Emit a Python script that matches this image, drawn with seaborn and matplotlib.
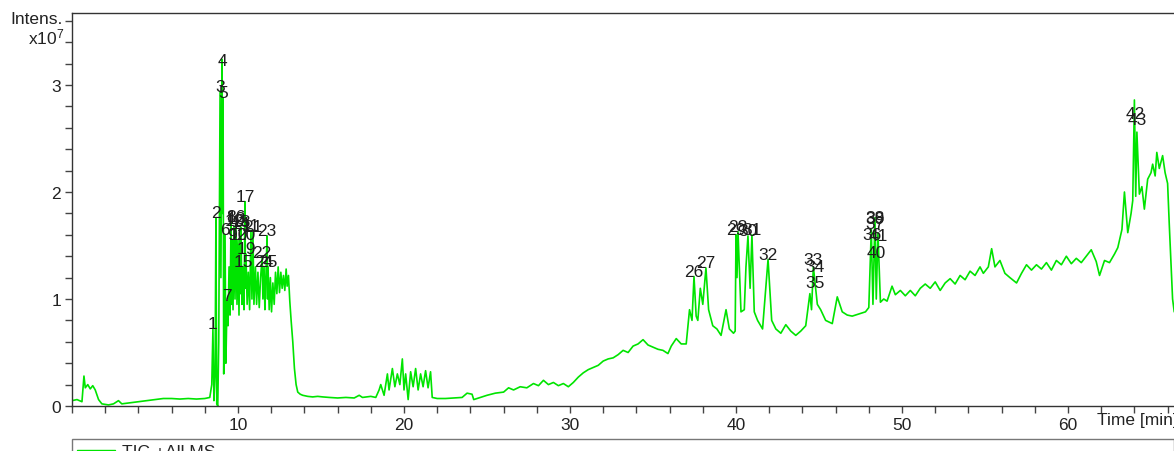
import matplotlib
matplotlib.use("Agg")
import matplotlib.pyplot as plt
from matplotlib.ticker import MultipleLocator, FixedLocator
import seaborn as sns
import pandas as pd

# ---------------- data ----------------
time_min = [
    0.0, 0.3, 0.6, 0.72, 0.8, 0.95, 1.1, 1.25, 1.4, 1.6, 1.8, 2.2, 2.5, 2.8, 3.0,
    3.5, 4.0, 4.5, 5.0, 5.5, 6.0, 6.5, 7.0, 7.5, 8.0, 8.3, 8.42, 8.49, 8.55, 8.62,
    8.67, 8.72, 8.78, 8.84, 8.92, 8.97, 9.04, 9.07, 9.10, 9.14, 9.18, 9.22, 9.27, 9.34,
    9.40, 9.46, 9.52, 9.58, 9.61, 9.64, 9.70, 9.76, 9.82, 9.88, 9.94, 10.00, 10.06,
    10.12, 10.15, 10.18, 10.24, 10.30, 10.36, 10.42, 10.45, 10.48, 10.55, 10.62, 10.70,
    10.78, 10.84, 10.90, 10.96, 11.05, 11.12, 11.20, 11.28, 11.36, 11.45, 11.50, 11.57,
    11.62, 11.68, 11.75, 11.78, 11.81, 11.88, 11.95, 12.02, 12.10, 12.18, 12.26, 12.34,
    12.42, 12.50, 12.58, 12.66, 12.74, 12.82, 12.90, 12.96, 13.04, 13.12, 13.20, 13.30,
    13.40, 13.50, 13.60, 13.75, 13.90, 14.2, 14.5, 14.8, 15.1, 15.5, 16.0, 16.5, 17.0,
    17.3, 17.5, 18.0, 18.3, 18.5, 18.6, 18.8, 19.0, 19.1, 19.3, 19.45, 19.6, 19.75, 19.9,
    20.0, 20.1, 20.25, 20.4, 20.55, 20.7, 20.85, 21.0, 21.15, 21.3, 21.45, 21.6, 21.7,
    22.0, 22.5, 23.0, 23.5, 23.8, 24.1, 24.2, 24.6, 25.0, 25.5, 26.0, 26.3, 26.6, 27.0,
    27.4, 27.8, 28.1, 28.4, 28.7, 29.0, 29.3, 29.6, 29.9, 30.2, 30.5, 30.8, 31.1, 31.4,
    31.7, 32.0, 32.3, 32.6, 32.9, 33.2, 33.5, 33.8, 34.1, 34.4, 34.7, 35.0, 35.3, 35.6,
    35.9, 36.1, 36.4, 36.7, 37.0, 37.2, 37.35, 37.47, 37.6, 37.7, 37.85, 38.0, 38.19,
    38.35, 38.6, 38.85, 39.1, 39.4, 39.6, 39.85, 39.95, 40.0, 40.06, 40.12, 40.3, 40.5,
    40.6, 40.72, 40.85, 40.96, 41.1, 41.3, 41.6, 41.93, 42.15, 42.4, 42.7, 43.0, 43.3,
    43.6, 43.9, 44.2, 44.45, 44.55, 44.66, 44.9, 45.1, 45.4, 45.8, 46.1, 46.4, 46.7,
    47.0, 47.4, 47.8, 48.0, 48.15, 48.25, 48.37, 48.45, 48.55, 48.7, 48.9, 49.1, 49.4,
    49.6, 49.9, 50.2, 50.5, 50.8, 51.1, 51.4, 51.7, 52.0, 52.3, 52.6, 52.9, 53.2, 53.5,
    53.8, 54.1, 54.4, 54.7, 54.9, 55.2, 55.4, 55.6, 55.9, 56.2, 56.5, 56.9, 57.2, 57.5,
    57.8, 58.1, 58.4, 58.7, 59.0, 59.3, 59.6, 59.9, 60.2, 60.5, 60.8, 61.1, 61.4, 61.7,
    61.9, 62.2, 62.5, 62.8, 63.0, 63.25, 63.4, 63.6, 63.8, 63.9, 64.0, 64.08, 64.15,
    64.3, 64.45, 64.6, 64.8, 65.0, 65.1, 65.25, 65.35, 65.5, 65.7, 65.85, 66.0, 66.1,
    66.3, 66.4,
]
intensity_1e7 = [
    0.05, 0.06, 0.04, 0.28, 0.17, 0.20, 0.16, 0.19, 0.15, 0.06, 0.02, 0.01, 0.02, 0.05, 0.02,
    0.03, 0.04, 0.05, 0.06, 0.07, 0.07, 0.065, 0.07, 0.065, 0.07, 0.08, 0.20, 0.72, 0.05, 0.30,
    1.76, 0.02, 0.00, 0.60, 2.94, 1.20, 3.24, 1.80, 2.88, 0.30, 0.90, 1.60, 0.40, 0.98,
    0.75, 1.30, 0.85, 1.72, 0.95, 1.55, 0.90, 1.68, 1.00, 1.70, 0.95, 1.55, 0.85,
    1.66, 1.05, 1.67, 0.95, 1.30, 0.90, 1.91, 1.10, 1.42, 0.95, 1.25, 0.90,
    1.64, 1.00, 1.63, 0.95, 1.30, 0.95, 1.25, 0.92, 1.20, 1.38, 1.00, 1.30,
    0.90, 1.20, 1.59, 1.00, 1.30, 0.90, 1.20, 0.88, 1.15, 0.95, 1.25, 1.05,
    1.30, 1.06, 1.25, 1.10, 1.22, 1.08, 1.28, 1.12, 1.22, 0.98, 0.80, 0.60,
    0.35, 0.20, 0.13, 0.11, 0.10, 0.09, 0.085, 0.09, 0.085, 0.08, 0.075, 0.08, 0.075,
    0.10, 0.08, 0.09, 0.08, 0.15, 0.20, 0.10, 0.30, 0.15, 0.35, 0.18, 0.30, 0.20, 0.44,
    0.15, 0.30, 0.06, 0.32, 0.18, 0.35, 0.15, 0.30, 0.18, 0.33, 0.17, 0.32, 0.08,
    0.07, 0.07, 0.075, 0.08, 0.12, 0.11, 0.06, 0.08, 0.10, 0.12, 0.13, 0.17, 0.15, 0.18,
    0.17, 0.21, 0.19, 0.24, 0.20, 0.22, 0.19, 0.21, 0.18, 0.22, 0.27, 0.31, 0.34, 0.36,
    0.38, 0.42, 0.44, 0.45, 0.48, 0.52, 0.50, 0.56, 0.58, 0.62, 0.57, 0.55, 0.53, 0.52,
    0.49, 0.56, 0.63, 0.58, 0.58, 0.90, 0.80, 1.21, 0.84, 0.80, 1.10, 0.95, 1.29,
    0.90, 0.75, 0.72, 0.66, 0.90, 0.72, 0.68, 0.70, 1.60, 1.20, 1.63, 0.88, 0.90,
    1.30, 1.59, 1.10, 1.60, 0.88, 0.80, 0.72, 1.37, 0.80, 0.72, 0.68, 0.76, 0.70,
    0.66, 0.70, 0.75, 1.05, 0.90, 1.30, 0.95, 0.90, 0.80, 0.77, 1.02, 0.88, 0.85,
    0.84, 0.86, 0.88, 0.92, 1.65, 0.95, 1.76, 1.00, 1.62, 0.97, 1.00, 0.98, 1.12,
    1.04, 1.08, 1.03, 1.08, 1.03, 1.10, 1.14, 1.10, 1.16, 1.08, 1.15, 1.19, 1.14, 1.22,
    1.18, 1.26, 1.22, 1.30, 1.24, 1.30, 1.47, 1.30, 1.36, 1.24, 1.20, 1.15, 1.24, 1.32,
    1.27, 1.32, 1.28, 1.34, 1.27, 1.36, 1.32, 1.40, 1.33, 1.38, 1.34, 1.40, 1.46, 1.35,
    1.22, 1.36, 1.34, 1.42, 1.48, 1.65, 2.00, 1.62, 1.80, 1.92, 2.86, 1.96, 2.56,
    1.98, 2.05, 1.84, 2.12, 2.18, 2.26, 2.15, 2.37, 2.22, 2.34, 2.18, 2.08, 1.70,
    1.00, 0.88,
]

peak_ids = [str(i) for i in range(1, 44)]
peak_times = [
    8.49, 8.67, 8.92, 9.04, 9.10, 9.22, 9.34, 9.58, 9.64, 10.00,
    10.78, 9.76, 9.88, 10.12, 10.30, 9.90, 10.42, 10.18, 10.48, 10.44,
    10.90, 11.45, 11.75, 11.57, 11.81, 37.47, 38.19, 40.12, 40.00, 40.72,
    40.96, 41.93, 44.64, 44.76, 44.76, 48.19, 48.37, 48.40, 48.37, 48.43,
    48.55, 64.04, 64.16,
]
peak_label_heights = [
    0.77, 1.81, 2.99, 3.23, 2.93, 1.65, 1.03, 1.77, 1.60, 1.60,
    1.69, 1.73, 1.75, 1.71, 1.35, 1.77, 1.96, 1.72, 1.47, 1.60,
    1.68, 1.43, 1.64, 1.35, 1.35, 1.26, 1.34, 1.68, 1.65, 1.64,
    1.65, 1.42, 1.37, 1.30, 1.15, 1.60, 1.71, 1.76, 1.75, 1.43,
    1.59, 2.73, 2.68,
]

x_major = [10, 20, 30, 40, 50, 60]
y_major = [0, 1, 2, 3]
legend_label = "TIC +All MS"

# ---------------- drawing ----------------
sns.set_style("white")
plt.rcParams["font.family"] = ["Liberation Sans", "DejaVu Sans"]
plt.rcParams["mathtext.default"] = "regular"

FS = 12.5
W, H = 1174, 452
fig = plt.figure(figsize=(W / 100, H / 100), dpi=100)
ax_left, ax_bottom, ax_top = 72, 407, 14
ax = fig.add_axes([ax_left / W, (H - ax_bottom) / H, (W - ax_left) / W, (ax_bottom - ax_top) / H])

df = pd.DataFrame({"Time [min]": time_min, "Intens.": intensity_1e7})
sns.lineplot(data=df, x="Time [min]", y="Intens.", ax=ax, estimator=None, sort=False,
             color="#00e400", linewidth=1.2, label=legend_label)

ax.set_xlim(0, (W - ax_left) / 16.6)
ax.set_ylim(0, (ax_bottom - ax_top) / 107.0)

text_col = "#1e1e1e"
for pid, t, h in zip(peak_ids, peak_times, peak_label_heights):
    ax.text(t, h, pid, ha="center", va="center", fontsize=FS, color=text_col,
            zorder=5, clip_on=False)

ax.xaxis.set_major_locator(FixedLocator(x_major))
ax.xaxis.set_minor_locator(MultipleLocator(2))
ax.yaxis.set_major_locator(FixedLocator(y_major))
ax.yaxis.set_minor_locator(MultipleLocator(0.2))
ax.set_xticklabels([str(v) for v in x_major])
ax.set_yticklabels([str(v) for v in y_major])
ax.tick_params(axis="both", which="both", direction="out", length=5, width=1,
               color="#444444", labelsize=FS, labelcolor="#222222", pad=3)
ax.tick_params(axis="both", which="both", left=True, bottom=True)

for side in ["left", "bottom", "top"]:
    ax.spines[side].set_color("#333333")
    ax.spines[side].set_linewidth(1.0)
ax.spines["right"].set_visible(False)
ax.set_xlabel("")
ax.set_ylabel("")

ax.annotate("Time [min]", xy=(0, 0), xycoords="axes fraction", xytext=(1097 - ax_left, -14),
            textcoords="offset pixels", ha="left", va="center", fontsize=FS, color="#222222",
            annotation_clip=False)
fig.text(63 / W, 1 - 19 / H, "Intens.", ha="right", va="center", fontsize=FS, color="#222222")
fig.text(64 / W, 1 - 37 / H, "x10$^{7}$", ha="right", va="center", fontsize=FS, color="#222222")

leg = ax.legend(loc="upper left", bbox_to_anchor=(0, -33 / 393 - 0.2, 1.0, 0.2),
                mode="expand", borderaxespad=0, frameon=True, fancybox=False,
                fontsize=FS, handlelength=2.2, borderpad=0.3, handletextpad=0.4)
leg.get_frame().set_edgecolor("#555555")
leg.get_frame().set_linewidth(1.0)
for line in leg.get_lines():
    line.set_linewidth(1.0)

fig.savefig("out.png", dpi=100)
